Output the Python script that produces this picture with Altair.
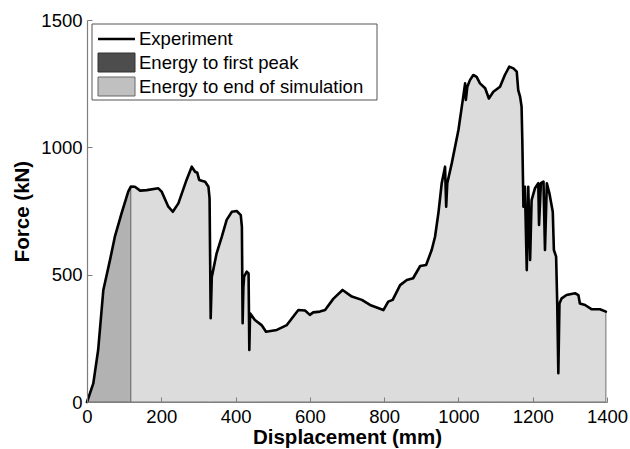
import altair as alt
import pandas as pd

disp = [0, 17, 30, 44, 62, 75, 93, 111, 118, 129, 143, 161, 192, 201, 219, 231, 246, 268,
        282, 291, 297, 302, 318, 327, 330, 333, 336, 338, 349, 363, 376, 390, 403, 414,
        417, 419, 421, 423, 430, 435, 437, 439, 452, 470, 482, 511, 538, 555, 569, 587,
        600, 609, 627, 641, 663, 688, 713, 740, 762, 798, 811, 823, 843, 861, 878, 897,
        913, 928, 937, 946, 955, 964, 967, 970, 982, 1000, 1013, 1018, 1020, 1024, 1031,
        1040, 1049, 1058, 1072, 1082, 1094, 1112, 1125, 1137, 1148, 1157, 1161, 1166,
        1170, 1172, 1175, 1179, 1184, 1188, 1193, 1197, 1206, 1215, 1217, 1222, 1229,
        1233, 1238, 1245, 1254, 1257, 1263, 1266, 1269, 1272, 1278, 1291, 1314, 1323,
        1327, 1341, 1359, 1381, 1397]
force = [0, 73, 204, 440, 558, 649, 741, 826, 846, 845, 830, 832, 839, 826, 767, 747, 780, 872,
         924, 904, 900, 872, 865, 845, 800, 329, 492, 505, 584, 649, 715, 747, 750, 734,
         688, 309, 450, 492, 512, 505, 204, 348, 322, 302, 276, 283, 302, 335, 361, 359,
         342, 352, 355, 361, 405, 440, 414, 401, 381, 361, 394, 401, 459, 479, 486, 534,
         538, 597, 649, 741, 859, 924, 767, 859, 937, 1068, 1199, 1251, 1186, 1238, 1264,
         1284, 1277, 1251, 1232, 1192, 1218, 1238, 1284, 1317, 1310, 1297, 1225, 1199,
         1160, 1029, 767, 845, 518, 845, 558, 793, 839, 859, 695, 859, 865,
         597, 859, 819, 747, 597, 571, 387, 113, 387, 407, 420, 427, 420,
         387, 381, 364, 364, 355]
first_peak_disp = 118

legend_labels = ["Experiment", "Energy to first peak", "Energy to end of simulation"]
x_ticks = [0, 200, 400, 600, 800, 1000, 1200, 1400]
y_ticks = [0, 500, 1000, 1500]

df = pd.DataFrame({"d": disp, "f": force, "i": range(len(disp))})
df_first = df[df["d"] <= first_peak_disp]
df_rest = df[df["d"] >= first_peak_disp]

FONT = "Liberation Sans"
W, H = 520, 382

xs = alt.Scale(domain=[0, 1400], nice=False, zero=False)
ys = alt.Scale(domain=[0, 1500], nice=False)

common = dict(grid=True, gridColor="#7f7f7f", gridOpacity=1, gridWidth=1, ticks=False,
              domainColor="#7f7f7f", domainWidth=1.2, labelPadding=5, format="d",
              labelFontSize=18.5, labelFont=FONT, labelColor="black",
              titleFont=FONT, titleFontSize=20.5, titleFontWeight="bold",
              titleColor="black", zindex=1, labelFlush=False)

# x grid lines run from top to bottom: show only a short inward stub at the bottom
x_axis = alt.Axis(values=x_ticks, title="Displacement (mm)", gridDash=[5, 2000],
                  gridDashOffset=2005 - (H - 5), titlePadding=2, **common)
y_axis = alt.Axis(values=y_ticks, title="Force (kN)", gridDash=[5, 2000],
                  titlePadding=8, **common)

area_first = alt.Chart(df_first).mark_area(color="#b2b2b2", stroke="#666666",
                                           strokeWidth=1, opacity=1).encode(
    x=alt.X("d:Q", scale=xs, axis=x_axis),
    y=alt.Y("f:Q", scale=ys, axis=y_axis),
)
area_rest = alt.Chart(df_rest).mark_area(color="#dcdcdc", stroke="#707070",
                                         strokeWidth=1, opacity=1).encode(
    x=alt.X("d:Q", scale=xs),
    y=alt.Y("f:Q", scale=ys),
)
line = alt.Chart(df).mark_line(color="black", strokeWidth=2.6, strokeJoin="round",
                               strokeCap="round").encode(
    x=alt.X("d:Q", scale=xs),
    y=alt.Y("f:Q", scale=ys),
    order="i:Q",
)

one = alt.Data(values=[{"k": 1}])
leg_box = alt.Chart(one).mark_rect(fill="white", stroke="#555555", strokeWidth=1).encode(
    x=alt.value(5), x2=alt.value(290), y=alt.value(4), y2=alt.value(80))
leg_line = alt.Chart(one).mark_rule(color="black", strokeWidth=2.6).encode(
    x=alt.value(11), x2=alt.value(48), y=alt.value(19))
leg_sw1 = alt.Chart(one).mark_rect(fill="#4d4d4d", stroke="#333333", strokeWidth=1).encode(
    x=alt.value(11), x2=alt.value(48), y=alt.value(33), y2=alt.value(52))
leg_sw2 = alt.Chart(one).mark_rect(fill="#c0c0c0", stroke="#666666", strokeWidth=1).encode(
    x=alt.value(11), x2=alt.value(48), y=alt.value(57), y2=alt.value(76))
leg_texts = [
    alt.Chart(one).mark_text(text=lab, align="left", baseline="middle", font=FONT,
                             fontSize=18.5, color="black").encode(
        x=alt.value(52), y=alt.value(yy))
    for lab, yy in zip(legend_labels, [19, 43, 67])
]

chart = alt.layer(area_first, area_rest, line, leg_box, leg_line, leg_sw1, leg_sw2,
                  *leg_texts).properties(
    width=W, height=H,
    autosize=alt.AutoSizeParams(type="none"),
    padding={"left": 87, "top": 20, "right": 23, "bottom": 47},
    background="white",
).configure_view(stroke=None)

chart.save("out.html", embed_options={"renderer": "svg", "actions": False})
